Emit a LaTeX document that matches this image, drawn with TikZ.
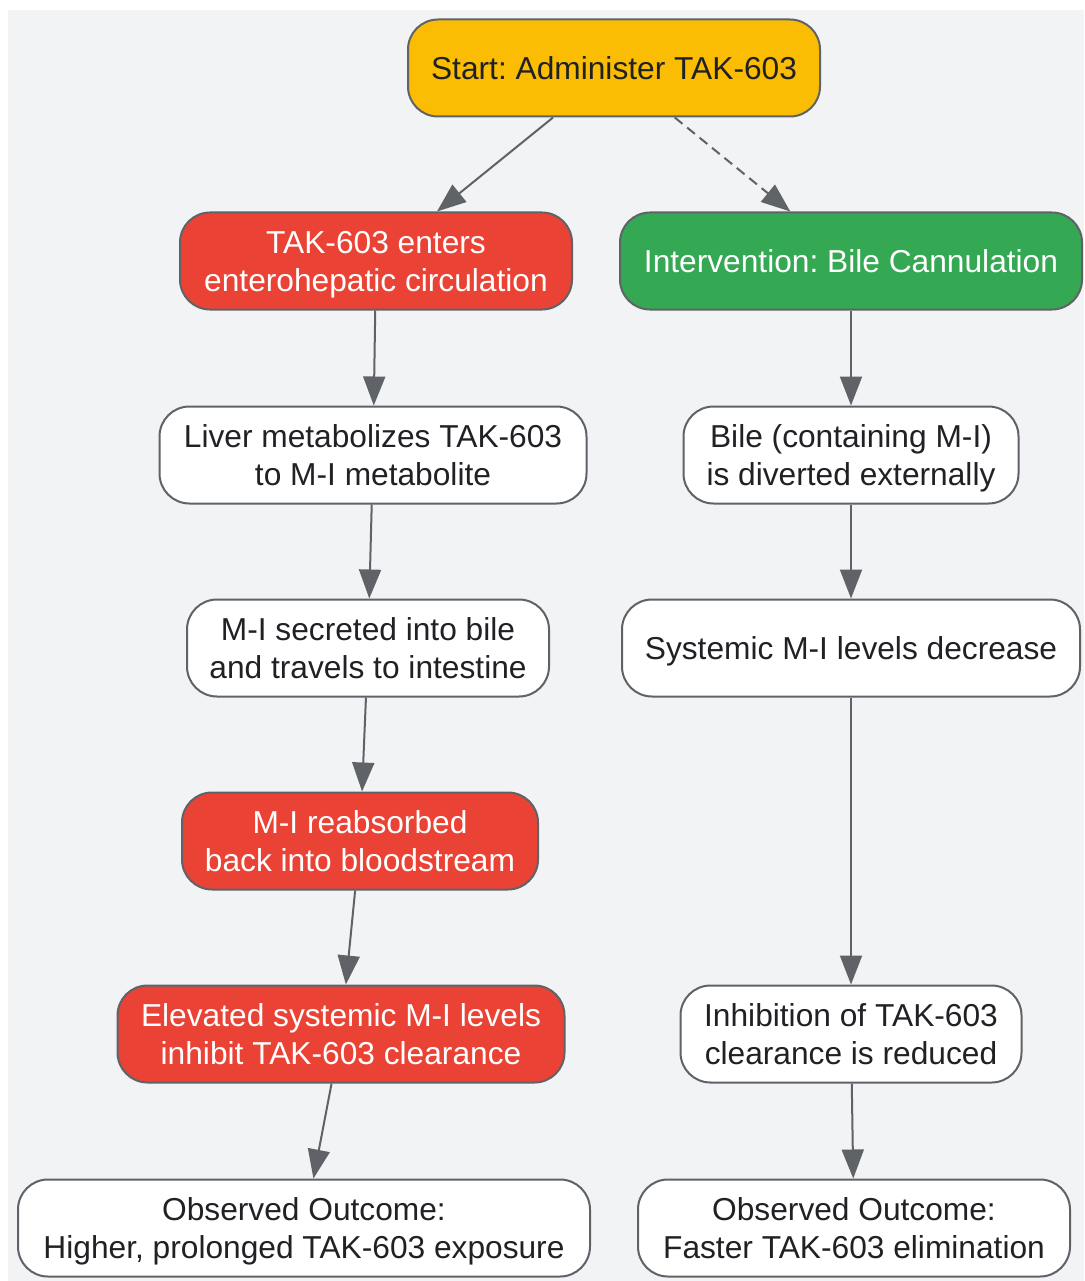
\documentclass[tikz,border=0pt]{standalone}
\usepackage{fontspec}
\setmainfont{Liberation Sans}
\usetikzlibrary{arrows.meta}
\definecolor{bgc}{HTML}{F1F3F4}
\definecolor{edgec}{HTML}{5F6368}
\definecolor{txtc}{HTML}{202124}
\definecolor{yel}{HTML}{FBBC04}
\definecolor{redc}{HTML}{EA4335}
\definecolor{grn}{HTML}{34A853}
\frenchspacing
\tikzset{
  box/.style={draw=edgec, line width=2pt, rounded corners=30pt, align=center,
    inner sep=0pt, minimum height=97pt, text=txtc, fill=white, text depth=-1.5pt,
    font=\fontsize{31.7}{38}\selectfont\frenchspacing},
  redbox/.style={box, fill=redc, text=white},
  grnbox/.style={box, fill=grn, text=white},
  yelbox/.style={box, fill=yel},
  conn/.style={draw=edgec, line width=2pt, -{Triangle[length=29pt,width=22pt]}},
  dconn/.style={conn, dash pattern=on 10pt off 6pt}
}
\begin{document}
\begin{tikzpicture}[x=1pt,y=-1pt]
\useasboundingbox (0,0) rectangle (1084,1281);
\fill[bgc] (8,10) rectangle (1084,1281);
\node[yelbox, minimum width=412pt] (start) at (614,68) {Start: Administer TAK-603};
\node[redbox, minimum width=392pt] (enter) at (376,261) {TAK-603 enters\\enterohepatic circulation};
\node[grnbox, minimum width=462pt] (interv) at (851,261) {Intervention: Bile Cannulation};
\node[box, minimum width=427pt] (liver) at (373,455) {Liver metabolizes TAK-603\\to M-I metabolite};
\node[box, minimum width=335pt] (bile) at (851,455) {Bile (containing M-I)\\is diverted externally};
\node[box, minimum width=362pt] (secr) at (368,648) {M-I secreted into bile\\and travels to intestine};
\node[box, minimum width=458pt] (syst) at (851,648) {Systemic M-I levels decrease};
\node[redbox, minimum width=356pt] (reabs) at (360,841) {M-I reabsorbed\\back into bloodstream};
\node[redbox, minimum width=447pt] (elev) at (341,1034) {Elevated systemic M-I levels\\inhibit TAK-603 clearance};
\node[box, minimum width=341pt] (inhib) at (851,1034) {Inhibition of TAK-603\\clearance is reduced};
\node[box, minimum width=572pt] (obsl) at (304,1228) {Observed Outcome:\\Higher, prolonged TAK-603 exposure};
\node[box, minimum width=432pt] (obsr) at (854,1228) {Observed Outcome:\\Faster TAK-603 elimination};
\draw[conn] (start) -- (enter);
\draw[dconn] (start) -- (interv);
\draw[conn] (enter) -- (liver);
\draw[conn] (liver) -- (secr);
\draw[conn] (secr) -- (reabs);
\draw[conn] (reabs) -- (elev);
\draw[conn] (elev) -- (obsl);
\draw[conn] (interv) -- (bile);
\draw[conn] (bile) -- (syst);
\draw[conn] (syst) -- (inhib);
\draw[conn] (inhib) -- (obsr);
\end{tikzpicture}
\end{document}
